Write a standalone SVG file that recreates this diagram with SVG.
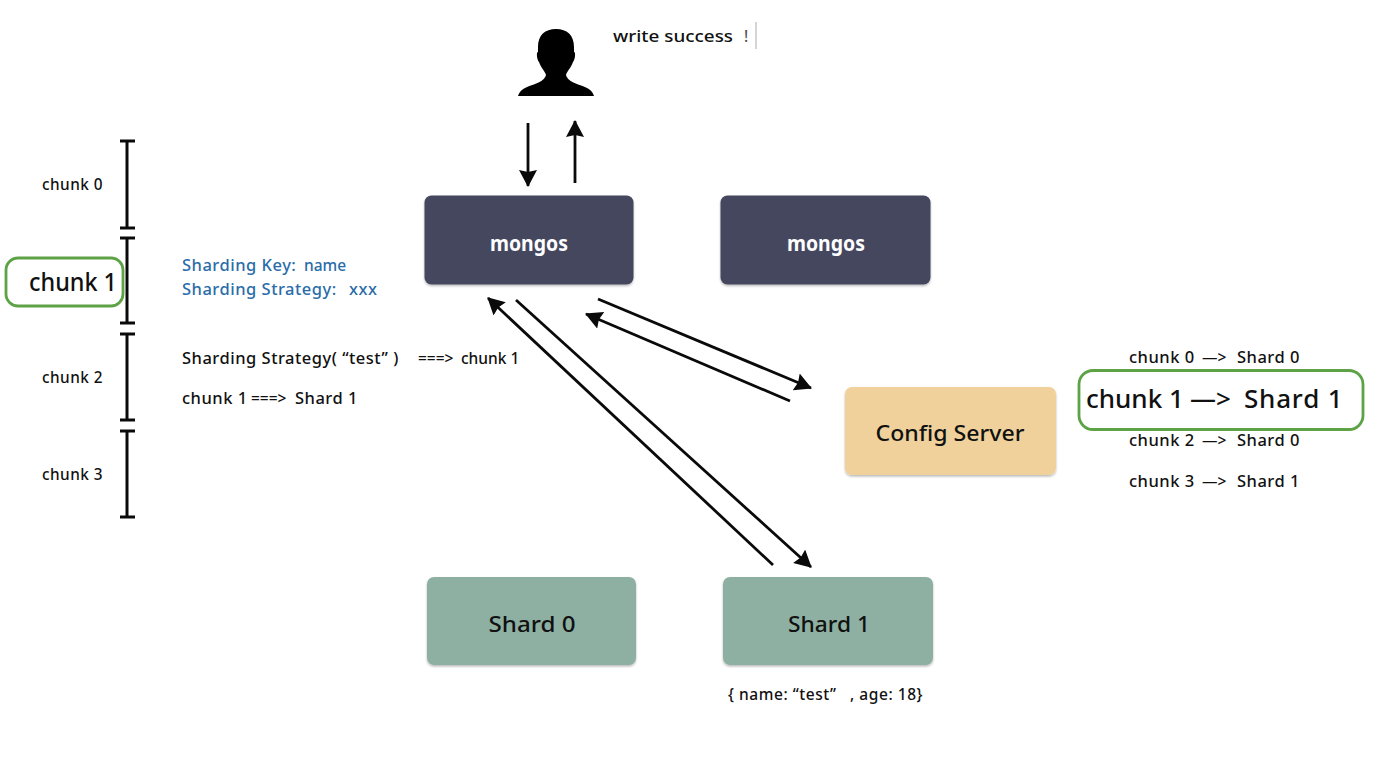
<svg xmlns="http://www.w3.org/2000/svg" width="1378" height="774" viewBox="0 0 1378 774">
<style>
text{font-family:"Noto Sans","DejaVu Sans",sans-serif;fill:#111;white-space:pre;font-weight:500}
.s{font-size:16.500px;letter-spacing:.5px}
.m{font-size:15.500px}
.d{letter-spacing:.55px}
.z{font-size:15.500px;letter-spacing:0}
.b{font-size:26px}
.n{font-size:21px;text-anchor:middle}
.w{fill:#fff;font-weight:700}
.blue{fill:#2a6ca8}
.box{filter:url(#sh)}
.ln{stroke:#0a0a0a;stroke-width:2.8;fill:none}
.tick{stroke:#0a0a0a;stroke-width:3;fill:none}
.hl{fill:none;stroke:#5da345;stroke-width:2.8}
</style>
<defs>
<marker id="ah" markerUnits="userSpaceOnUse" markerWidth="20" markerHeight="20" refX="16" refY="9" orient="auto"><path d="M0 0L17 9L0 18L2 9Z" fill="#0a0a0a"/></marker>
<filter id="sh" x="-5%" y="-5%" width="110%" height="115%"><feDropShadow dx="0" dy="1.500" stdDeviation="1.200" flood-color="#000" flood-opacity="0.280"/></filter>
</defs>
<rect width="1378" height="774" fill="#fff"/>
<g id="user"><path d="M538 47C538 35 545 29 556 29C567 29 574 35 574 47L574 52C576 52 575 60 573 62C571 68 567 71 566 75C567 81 577 84 585 87C590 89 593 92 594 96L518 96C519 92 522 89 527 87C535 84 545 81 546 75C545 71 541 68 539 62C537 60 536 52 538 52Z" fill="#000"/></g>
<g id="write-success"><text class="m" x="613" y="42" textLength="120" lengthAdjust="spacingAndGlyphs">write success</text><text class="m" x="744" y="42" style="fill:#555">!</text><line x1="756" y1="22" x2="756" y2="49" stroke="#aaa" stroke-width="1"/></g>
<g id="connectors">
<line class="ln" x1="528" y1="123" x2="528" y2="186" marker-end="url(#ah)"/>
<line class="ln" x1="575" y1="183" x2="575" y2="121" marker-end="url(#ah)"/>
<line class="ln" x1="598" y1="299" x2="811" y2="388" marker-end="url(#ah)"/>
<line class="ln" x1="790" y1="401" x2="586" y2="314" marker-end="url(#ah)"/>
<line class="ln" x1="516" y1="300" x2="811" y2="567" marker-end="url(#ah)"/>
<line class="ln" x1="773" y1="565" x2="488" y2="298" marker-end="url(#ah)"/>
</g>
<g id="mongos-0"><rect class="box" x="424.500" y="195.500" width="209" height="89" rx="7" fill="#45475f"/><text class="n w" x="529" y="251" textLength="78" lengthAdjust="spacingAndGlyphs">mongos</text></g>
<g id="mongos-1"><rect class="box" x="720.500" y="195.500" width="210" height="89" rx="7" fill="#45475f"/><text class="n w" x="826" y="251" textLength="78" lengthAdjust="spacingAndGlyphs">mongos</text></g>
<g id="config-server"><rect class="box" x="845" y="387" width="211" height="88" rx="7" fill="#f0d19b"/><text class="n" x="950" y="441" textLength="149" lengthAdjust="spacingAndGlyphs">Config Server</text></g>
<g id="shard-0"><rect class="box" x="427" y="577" width="209" height="88" rx="7" fill="#8eb0a2"/><text class="n" x="532" y="632" textLength="87" lengthAdjust="spacingAndGlyphs">Shard 0</text></g>
<g id="shard-1"><rect class="box" x="723" y="577" width="210" height="88" rx="7" fill="#8eb0a2"/><text class="n" x="829" y="632" textLength="82" lengthAdjust="spacingAndGlyphs">Shard 1</text></g>
<g id="doc"><text class="m d" x="728" y="700">{ name: “test”<tspan x="850">, age: 18}</tspan></text></g>
<g id="chunk-ruler">
<path class="tick" d="M127 141V228M120 141H135M120 228H135M127 238V323M120 238H135M120 323H135M127 334V420M120 334H135M120 420H135M127 431V517M120 431H135M120 517H135"/>
<text class="s" x="42" y="190" textLength="61" lengthAdjust="spacingAndGlyphs">chunk 0</text>
<rect class="hl" x="6" y="258" width="117" height="48" rx="12"/>
<text class="b" x="29" y="291" textLength="88" lengthAdjust="spacingAndGlyphs">chunk 1</text>
<text class="s" x="42" y="383" textLength="61" lengthAdjust="spacingAndGlyphs">chunk 2</text>
<text class="s" x="42" y="480" textLength="61" lengthAdjust="spacingAndGlyphs">chunk 3</text>
</g>
<g id="notes">
<text class="s blue" x="182" y="271">Sharding Key:<tspan class="z" x="304">name</tspan></text>
<text class="s blue" x="182" y="295">Sharding Strategy:<tspan x="349">xxx</tspan></text>
<text class="s" x="182" y="364">Sharding Strategy( “test” )<tspan class="z" x="418">===&gt;</tspan><tspan class="z" x="461">chunk 1</tspan></text>
<text class="s" x="182" y="404">chunk 1<tspan class="z" x="251">===&gt;</tspan><tspan x="295">Shard 1</tspan></text>
</g>
<g id="mapping">
<text class="s" x="1129" y="363">chunk 0<tspan class="z" x="1202">—&gt;</tspan><tspan x="1237">Shard 0</tspan></text>
<rect class="hl" x="1079" y="370.500" width="284" height="59" rx="14"/>
<text class="b" x="1086" y="408">chunk 1<tspan x="1190">—&gt;</tspan><tspan x="1244" style="letter-spacing:.8px">Shard 1</tspan></text>
<text class="s" x="1129" y="446">chunk 2<tspan class="z" x="1202">—&gt;</tspan><tspan x="1237">Shard 0</tspan></text>
<text class="s" x="1129" y="487">chunk 3<tspan class="z" x="1202">—&gt;</tspan><tspan x="1237">Shard 1</tspan></text>
</g>
</svg>
